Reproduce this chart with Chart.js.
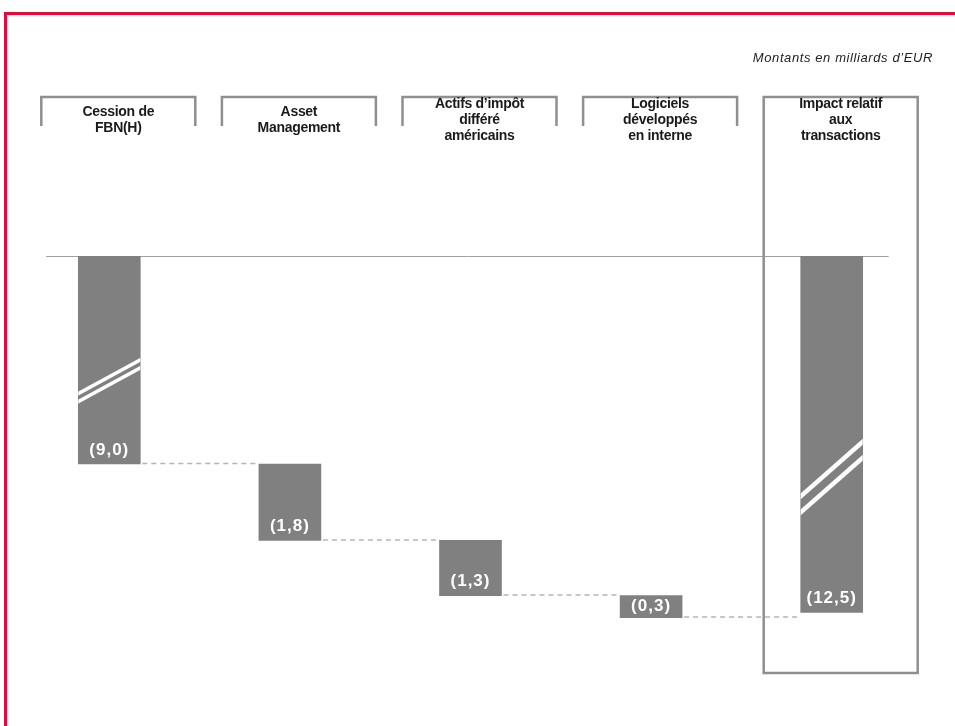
<!DOCTYPE html>
<html lang="fr">
<head>
<meta charset="utf-8">
<title>Impact relatif aux transactions</title>
<script src="https://cdn.jsdelivr.net/npm/chart.js@4.4.1/dist/chart.umd.min.js"></script>
<style>
  html, body { margin: 0; padding: 0; background: #fff; overflow: hidden; }
  #frame {
    position: absolute; left: 4px; top: 12px; right: 0; bottom: 0;
    border-top: 3px solid #e8073d; border-left: 3px solid #e8073d;
  }
  #waterfall { position: absolute; left: 0; top: 0; }
</style>
</head>
<body>
<div id="frame"></div>
<canvas id="waterfall" width="955" height="726"></canvas>
<script>
const categories = [
  ['Cession de', 'FBN(H)'],
  ['Asset', 'Management'],
  ['Actifs d’impôt', 'différé', 'américains'],
  ['Logiciels', 'développés', 'en interne'],
  ['Impact relatif', 'aux', 'transactions']
];
const steps = [-9.0, -1.8, -1.3, -0.3];   // milliards d'EUR
const total = -12.5;
const unitNote = 'Montants en milliards d’EUR';

// each step hangs from where the previous one ended, the total starts at zero
const ranges = [];
let level = 0;
steps.forEach(v => { ranges.push([level, level + v]); level += v; });
ranges.push([0, total]);
const amounts = steps.concat([total]);

const FONT = '"Liberation Sans", Arial, sans-serif';
const GREY = '#808080';
const LINE = '#8f8f8f';

// value axis with a cut: the stretch between CUT_FROM and CUT_TO is left out
const CUT_FROM = -3, CUT_TO = -7.1;
function squeeze(v) {
  if (v > CUT_FROM) return v;
  if (v < CUT_TO) return v - (CUT_TO - CUT_FROM);
  return CUT_FROM;
}

class CutScale extends Chart.LinearScale {
  getPixelForValue(value) {
    return super.getPixelForValue(squeeze(value));
  }
}
CutScale.id = 'cut';
CutScale.defaults = {};
Chart.register(CutScale);

// white double strokes marking the cut on the long bars
const breakMarks = [
  { index: 0, at: 0.6, rise: 36, gap: 8, width: 3.5 },
  { index: 4, at: 0.62, rise: 58, gap: 16, width: 4.5 }
];

function fmt(v) {
  return '(' + Math.abs(v).toFixed(1).replace('.', ',') + ')';
}

const decor = {
  id: 'decor',
  beforeDatasetsDraw(chart) {
    const { ctx } = chart;
    const x = chart.scales.x, y = chart.scales.y;
    const zero = y.getPixelForValue(0);
    const last = categories.length - 1;
    ctx.save();

    // zero line
    ctx.strokeStyle = '#a0a0a0';
    ctx.lineWidth = 1;
    ctx.beginPath();
    ctx.moveTo(chart.chartArea.left + 27, zero + 0.5);
    ctx.lineTo(x.getPixelForValue(last) + 57, zero + 0.5);
    ctx.stroke();

    // brackets over the steps, a full box round the total
    ctx.strokeStyle = LINE;
    ctx.lineWidth = 2.5;
    categories.forEach((lines, i) => {
      const cx = x.getPixelForValue(i) + 9;
      const l = cx - 77, r = cx + 77;
      ctx.beginPath();
      if (i === last) {
        ctx.rect(l, 97, r - l, 576);
      } else {
        ctx.moveTo(l, 126);
        ctx.lineTo(l, 97);
        ctx.lineTo(r, 97);
        ctx.lineTo(r, 126);
      }
      ctx.stroke();

      ctx.fillStyle = '#1a1a1a';
      ctx.font = 'bold 14px ' + FONT;
      ctx.letterSpacing = '-0.3px';
      ctx.textAlign = 'center';
      ctx.textBaseline = 'middle';
      const top = 120 - (lines.length - 1) * 8;
      lines.forEach((t, k) => ctx.fillText(t, cx, top + k * 16));
    });

    ctx.font = 'italic 13px ' + FONT;
    ctx.letterSpacing = '0.6px';
    ctx.textAlign = 'right';
    ctx.fillStyle = '#222';
    ctx.fillText(unitNote, 933, 58);
    ctx.restore();
  },
  afterDatasetsDraw(chart) {
    const { ctx } = chart;
    const bars = chart.getDatasetMeta(0).data;
    ctx.save();

    // dashed links from the end of one step to the next bar
    ctx.strokeStyle = '#b5b5b5';
    ctx.lineWidth = 1.5;
    ctx.setLineDash([5, 4]);
    for (let i = 0; i < bars.length - 1; i++) {
      const a = bars[i], b = bars[i + 1];
      const yy = Math.max(a.y, a.base) - 0.5;
      ctx.beginPath();
      ctx.moveTo(a.x + a.width / 2 + 2, yy);
      ctx.lineTo(b.x - b.width / 2, yy);
      ctx.stroke();
    }
    ctx.setLineDash([]);

    breakMarks.forEach(m => {
      const el = bars[m.index];
      const l = el.x - el.width / 2, r = el.x + el.width / 2;
      const t = Math.min(el.y, el.base), h = Math.abs(el.y - el.base);
      const mid = t + h * m.at;
      ctx.save();
      ctx.beginPath();
      ctx.rect(l, t, r - l, h);
      ctx.clip();
      ctx.strokeStyle = '#fff';
      ctx.lineWidth = m.width;
      [-m.gap / 2, m.gap / 2].forEach(d => {
        ctx.beginPath();
        ctx.moveTo(l - 2, mid + m.rise / 2 + d);
        ctx.lineTo(r + 2, mid - m.rise / 2 + d);
        ctx.stroke();
      });
      ctx.restore();
    });

    // amounts inside the bars, near the bottom
    ctx.fillStyle = '#fff';
    ctx.font = 'bold 17px ' + FONT;
    ctx.letterSpacing = '1px';
    ctx.textAlign = 'center';
    ctx.textBaseline = 'middle';
    bars.forEach((el, i) => {
      const bottom = Math.max(el.y, el.base);
      const h = Math.abs(el.y - el.base);
      const ly = h < 30 ? bottom - h / 2 : bottom - 14;
      ctx.fillText(fmt(amounts[i]), el.x, ly);
    });
    ctx.restore();
  }
};

new Chart(document.getElementById('waterfall'), {
  type: 'bar',
  data: {
    labels: categories.map(c => c.join(' ')),
    datasets: [{
      data: ranges,
      backgroundColor: GREY,
      borderWidth: 0,
      barThickness: 62,
      minBarLength: 22
    }]
  },
  options: {
    responsive: false,
    animation: false,
    layout: { padding: { left: 19, right: 33, top: 256, bottom: 88 } },
    scales: {
      x: { display: false },
      // range counted after the cut
      y: { type: 'cut', min: -9, max: 0, display: false }
    },
    plugins: {
      legend: { display: false },
      tooltip: { enabled: false }
    }
  },
  plugins: [decor]
});
</script>
</body>
</html>
